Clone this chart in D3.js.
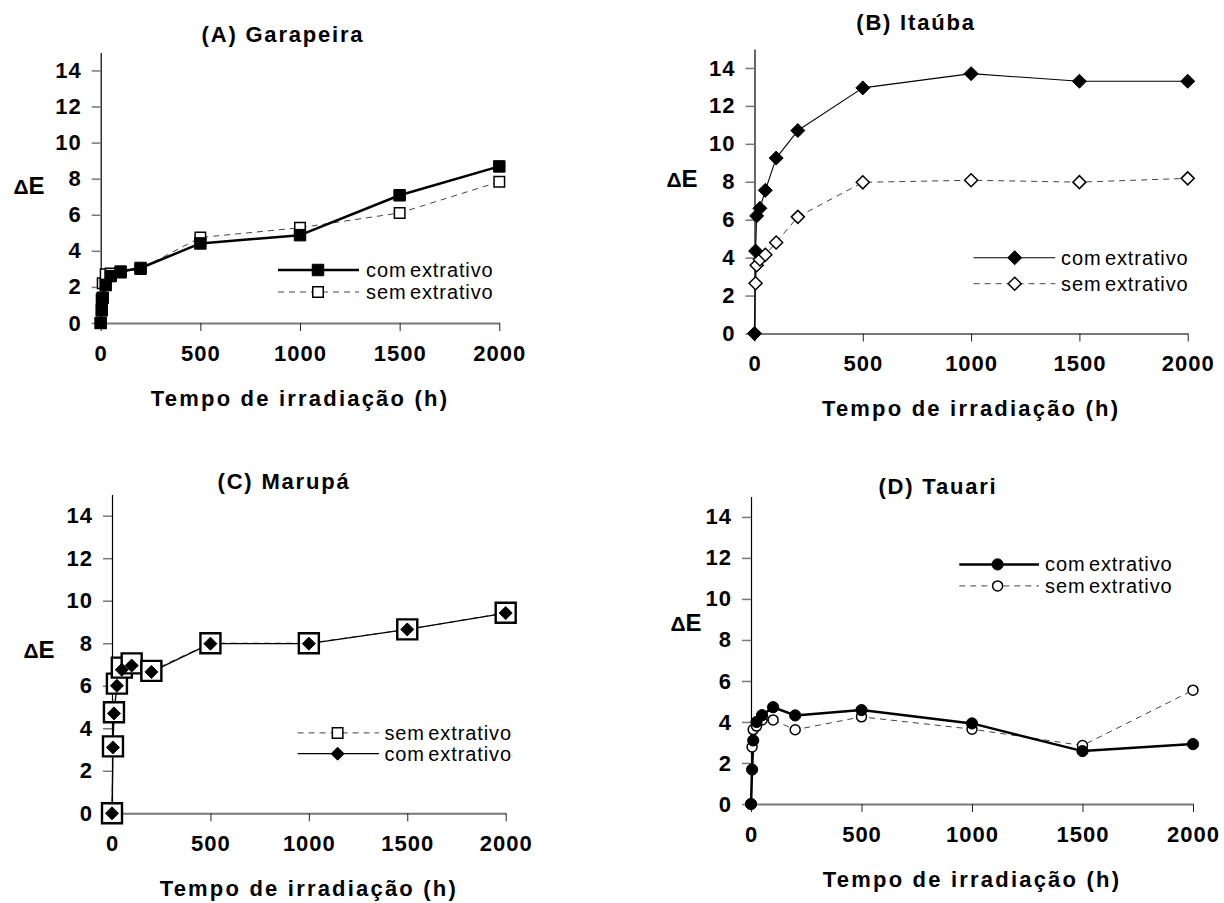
<!DOCTYPE html>
<html>
<head>
<meta charset="utf-8">
<script src="https://cdn.jsdelivr.net/npm/d3@7/dist/d3.min.js"></script>
<style>
  body { margin: 0; background: #fff; }
  svg { display: block; font-family: "Liberation Sans", Arial, sans-serif; }
</style>
</head>
<body>
<svg id="chart" width="1224" height="903"></svg>
<script>
// irradiation times (h) shared by every series
const hours = [0, 5, 10, 25, 50, 100, 200, 500, 1000, 1500, 2000];
const xTicks = [0, 500, 1000, 1500, 2000];
const yTicks = [0, 2, 4, 6, 8, 10, 12, 14];

// delta E values
const garapeiraCom = [0, 0.7, 1.4, 2.1, 2.6, 2.85, 3.05, 4.41, 4.87, 7.08, 8.68];
const garapeiraSem = [0, 1.3, 2.2, 2.7, 2.75, 2.8, 3.0, 4.74, 5.28, 6.1, 7.83];
const itaubaCom = [0, 4.35, 6.2, 6.6, 7.55, 9.25, 10.7, 12.95, 13.7, 13.3, 13.3];
const itaubaSem = [0, 2.65, 3.6, 3.9, 4.15, 4.8, 6.15, 7.97, 8.08, 7.98, 8.18];
const marupaSem = [0, 3.15, 4.75, 6.1, 6.85, 7.05, 6.7, 8.0, 8.0, 8.65, 9.43];
const marupaCom = [0, 3.1, 4.7, 6.0, 6.75, 6.95, 6.65, 7.98, 7.98, 8.65, 9.42];
const tauariCom = [0, 1.68, 3.1, 4.0, 4.33, 4.72, 4.32, 4.58, 3.93, 2.58, 2.92];
const tauariSem = [0, 2.78, 3.63, 3.8, 4.1, 4.1, 3.62, 4.25, 3.65, 2.85, 5.55];

const labelCom = "com extrativo";
const labelSem = "sem extrativo";

// layout of the four panels (pixel positions, not data)
const panels = [
  { title: "(A) Garapeira", tx: 283, ty: 34, left: 100.7, right: 499.3, bottom: 323, top: 52.4,
    dE: [29, 188], leg: { y: [270, 292], x1: 278, x2: 359, m: 318, t: 366 },
    series: [
      { name: labelCom, values: garapeiraCom, mark: "square", filled: true, ms: 11.5, lw: 2.5, dash: null, order: 1 },
      { name: labelSem, values: garapeiraSem, mark: "square", filled: false, ms: 10.5, lw: 1, dash: "6,5", order: 0 }
    ] },
  { title: "(B)  Itaúba", tx: 916, ty: 22, left: 754.5, right: 1187.7, bottom: 333.5, top: 49,
    dE: [682, 181], leg: { y: [257.7, 283.7], x1: 973.6, x2: 1055.3, m: 1014.7, t: 1061 },
    series: [
      { name: labelCom, values: itaubaCom, mark: "diamond", filled: true, ms: 7, lw: 1.1, dash: null, order: 1 },
      { name: labelSem, values: itaubaSem, mark: "diamond", filled: false, ms: 6.5, lw: 1, dash: "6,5", order: 0 }
    ] },
  { title: "(C) Marupá", tx: 284, ty: 481, left: 112, right: 505.7, bottom: 813.3, top: 494.4,
    dE: [39, 652.5], leg: { y: [732.9, 753.7], x1: 297.6, x2: 379, m: 337.6, t: 384.4 },
    series: [
      { name: labelSem, values: marupaSem, mark: "square", filled: false, ms: 20, legMs: 10.5, lw: 1, dash: "6,5", sw: 2.4, order: 0 },
      { name: labelCom, values: marupaCom, mark: "diamond", filled: true, ms: 6.5, lw: 1.3, dash: null, order: 1 }
    ] },
  { title: "(D) Tauari", tx: 938, ty: 486, left: 751, right: 1193, bottom: 804, top: 496.4,
    dE: [686, 625.7], leg: { y: [564.4, 585.9], x1: 959.3, x2: 1039, m: 997.6, t: 1045 },
    series: [
      { name: labelCom, values: tauariCom, mark: "circle", filled: true, ms: 5.6, lw: 2.5, dash: null, order: 1 },
      { name: labelSem, values: tauariSem, mark: "circle", filled: false, ms: 5, lw: 1, dash: "6,5", order: 0 }
    ] }
];

const svg = d3.select("#chart");

function markerPath(type, s) {
  if (type === "diamond") {
    return "M0," + (-s) + "L" + s + ",0L0," + s + "L" + (-s) + ",0Z";
  }
  if (type === "circle") {
    const p = d3.path();
    p.arc(0, 0, s, 0, 2 * Math.PI);
    p.closePath();
    return p.toString();
  }
  const h = s / 2;
  return "M" + (-h) + "," + (-h) + "H" + h + "V" + h + "H" + (-h) + "Z";
}

function drawMarker(g, sr, px, py, size) {
  g.append("path")
    .attr("d", markerPath(sr.mark, size || sr.ms))
    .attr("transform", "translate(" + px + "," + py + ")")
    .attr("fill", sr.filled ? "#000" : "#fff")
    .attr("stroke", "#000")
    .attr("stroke-width", sr.filled ? 1 : (size ? 1.5 : (sr.sw || 1.5)));
}

panels.forEach(p => {
  const x = d3.scaleLinear().domain([0, 2000]).range([p.left, p.right]);
  const y = d3.scaleLinear().domain([0, 15]).range([p.bottom, p.top]);
  const g = svg.append("g");

  // axes
  const yAxis = g.append("g")
    .attr("transform", "translate(" + p.left + ",0)")
    .call(d3.axisLeft(y).tickValues(yTicks).tickSize(9).tickSizeOuter(0).tickPadding(10));
  yAxis.select(".domain").attr("stroke", "#000").attr("stroke-width", 1.2);
  yAxis.selectAll(".tick line").attr("stroke", "#777").attr("stroke-width", 1.5);

  const xAxis = g.append("g")
    .attr("transform", "translate(0," + p.bottom + ")")
    .call(d3.axisBottom(x).tickValues(xTicks).tickFormat(d3.format("d"))
      .tickSize(8).tickSizeOuter(0).tickPadding(14));
  xAxis.select(".domain").attr("stroke", "#777").attr("stroke-width", 2);
  xAxis.selectAll(".tick line").attr("stroke", "#222").attr("stroke-width", 1);

  [yAxis, xAxis].forEach(a => a.selectAll(".tick text")
    .attr("fill", "#000")
    .style("font-size", "22px")
    .style("font-weight", "bold")
    .style("letter-spacing", "1px")
    .style("font-family", "'Liberation Sans', Arial, sans-serif"));

  // titles
  g.append("text")
    .attr("x", p.tx).attr("y", p.ty).attr("dy", "0.35em")
    .attr("text-anchor", "middle")
    .style("font-size", "22px").style("font-weight", "bold").style("letter-spacing", "1.8px")
    .text(p.title);

  g.append("text")
    .attr("x", (p.left + p.right) / 2).attr("y", p.bottom + 75).attr("dy", "0.35em")
    .attr("text-anchor", "middle")
    .style("font-size", "22px").style("font-weight", "bold").style("letter-spacing", "2.2px")
    .text("Tempo de irradiação (h)");

  const dE = g.append("text")
    .attr("x", p.dE[0]).attr("y", p.dE[1]).attr("dy", "0.35em")
    .attr("text-anchor", "middle")
    .style("font-weight", "bold");
  dE.append("tspan").style("font-size", "21px").text("Δ");
  dE.append("tspan").style("font-size", "24px").text("E");

  // series lines and markers
  const line = d3.line().x(d => x(d.t)).y(d => y(d.v));
  const ordered = p.series.slice().sort((a, b) => a.order - b.order);
  ordered.forEach(sr => {
    const pts = hours.map((t, i) => ({ t: t, v: sr.values[i] }));
    g.append("path")
      .datum(pts)
      .attr("fill", "none")
      .attr("stroke", sr.dash ? "#444" : "#000")
      .attr("stroke-width", sr.lw)
      .attr("stroke-dasharray", sr.dash)
      .attr("stroke-linejoin", "round")
      .attr("d", line);
  });
  ordered.forEach(sr => {
    const mg = g.append("g");
    hours.forEach((t, i) => drawMarker(mg, sr, x(t), y(sr.values[i])));
  });

  // legend
  p.series.forEach((sr, i) => {
    const ly = p.leg.y[i];
    g.append("line")
      .attr("x1", p.leg.x1).attr("x2", p.leg.x2).attr("y1", ly).attr("y2", ly)
      .attr("stroke", sr.dash ? "#444" : "#000")
      .attr("stroke-width", sr.lw)
      .attr("stroke-dasharray", sr.dash);
    drawMarker(g, sr, p.leg.m, ly, sr.legMs);
    g.append("text")
      .attr("x", p.leg.t).attr("y", ly).attr("dy", "0.35em")
      .style("font-size", "20px").style("word-spacing", "-3px").style("letter-spacing", "0.9px")
      .text(sr.name);
  });
});
</script>
</body>
</html>
